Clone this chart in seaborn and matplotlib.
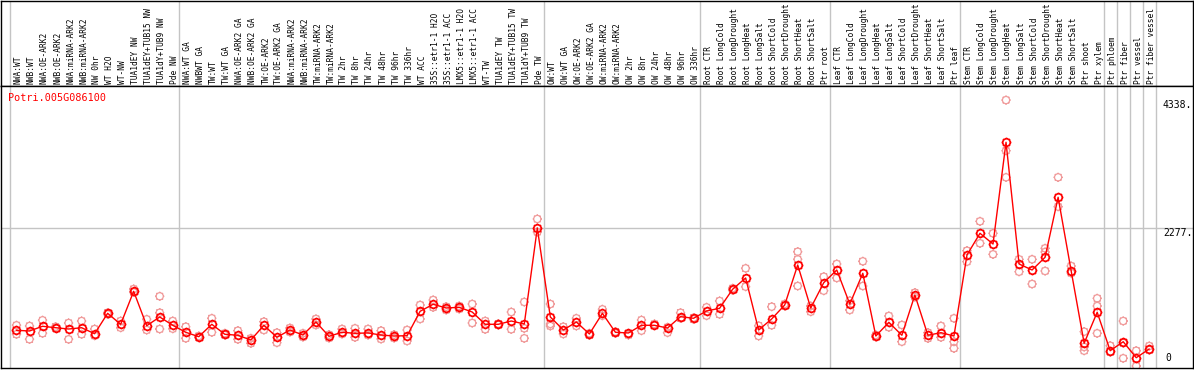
import numpy as np
import pandas as pd
import matplotlib
matplotlib.use("Agg")
import matplotlib.pyplot as plt
from matplotlib.path import Path
import seaborn as sns

# ---------------- data ----------------
gene = "Potri.005G086100"

group_sizes = [13, 28, 12, 10, 10, 11, 1, 1, 1, 1]

labels = [
    # group 1
    "NWA:WT", "NWB:WT", "NWA:OE-ARK2", "NWB:OE-ARK2", "NWA:miRNA-ARK2",
    "NWB:miRNA-ARK2", "NW 0hr", "WT H2O", "WT-NW", "TUA1dEY NW",
    "TUA1dEY+TUB15 NW", "TUA1dY+TUB9 NW", "Pde NW",
    # group 2
    "NWA:WT GA", "NWBWT GA", "TW:WT", "TW:WT GA", "NWA:OE-ARK2 GA",
    "NWB:OE-ARK2 GA", "TW:OE-ARK2", "TW:OE-ARK2 GA", "NWA:miRNA-ARK2",
    "NWB:miRNA-ARK2", "TW:miRNA-ARK2", "TW:miRNA-ARK2", "TW 2hr", "TW 8hr",
    "TW 24hr", "TW 48hr", "TW 96hr", "TW 336hr", "WT ACC",
    "35S::etr1-1 H2O", "35S::etr1-1 ACC", "LMX5::etr1-1 H2O",
    "LMX5::etr1-1 ACC", "WT-TW", "TUA1dEY TW", "TUA1dEY+TUB15 TW",
    "TUA1dY+TUB9 TW", "Pde TW",
    # group 3
    "OW:WT", "OW:WT GA", "OW:OE-ARK2", "OW:OE-ARK2 GA", "OW:miRNA-ARK2",
    "OW:miRNA-ARK2", "OW 2hr", "OW 8hr", "OW 24hr", "OW 48hr", "OW 96hr",
    "OW 336hr",
    # group 4
    "Root CTR", "Root LongCold", "Root LongDrought", "Root LongHeat",
    "Root LongSalt", "Root ShortCold", "Root ShortDrought", "Root ShortHeat",
    "Root ShortSalt", "Ptr root",
    # group 5
    "Leaf CTR", "Leaf LongCold", "Leaf LongDrought", "Leaf LongHeat",
    "Leaf LongSalt", "Leaf ShortCold", "Leaf ShortDrought", "Leaf ShortHeat",
    "Leaf ShortSalt", "Ptr leaf",
    # group 6
    "Stem CTR", "Stem LongCold", "Stem LongDrought", "Stem LongHeat",
    "Stem LongSalt", "Stem ShortCold", "Stem ShortDrought", "Stem ShortHeat",
    "Stem ShortSalt", "Ptr shoot", "Ptr xylem",
    # single columns
    "Ptr phloem", "Ptr fiber", "Ptr vessel", "Ptr fiber vessel",
]

mean_values = [
    624, 613, 689, 666, 645, 666, 569, 898, 721, 1253, 698, 839, 705,
    592, 521, 721, 560, 544, 468, 705, 511, 629, 548, 758, 527, 592, 576,
    581, 548, 532, 537, 931, 1044, 984, 995, 919, 721, 721, 774, 726, 2274,
    839, 629, 758, 565, 898, 592, 581, 705, 705, 661, 844, 818,
    936, 979, 1286, 1468, 629, 807, 1032, 1678, 984, 1392,
    1597, 1048, 1544, 532, 753, 544, 1194, 544, 586, 532,
    1839, 2189, 2016, 3657, 1694, 1597, 1802, 2770, 1586, 415, 915,
    295, 440, 182, 323,
]

rep1_values = [
    705, 694, 786, 682, 742, 774, 645, 908, 774, 1290, 802, 1173, 774,
    682, 532, 818, 576, 618, 495, 763, 586, 597, 576, 807, 553, 645, 656,
    645, 618, 553, 629, 1032, 1113, 1005, 1016, 1048, 774, 729, 919, 1081, 2420,
    1048, 682, 818, 576, 963, 602, 565, 790, 726, 673, 908, 827,
    995, 1097, 1302, 1624, 698, 1005, 1048, 1892, 924, 1489,
    1694, 1102, 1737, 548, 855, 710, 1231, 586, 694, 818,
    1908, 2382, 2189, 4338, 1769, 1769, 1947, 3092, 1661, 602, 1140,
    376, 774, 295, 371,
]

rep2_values = [
    560, 479, 576, 661, 479, 560, 537, 882, 666, 1237, 629, 908, 650,
    495, 508, 592, 548, 479, 415, 629, 424, 661, 516, 710, 500, 565, 511,
    548, 484, 500, 452, 807, 995, 952, 968, 742, 640, 710, 640, 656, 2210,
    726, 565, 694, 544, 860, 576, 548, 618, 710, 586, 818, 802,
    860, 882, 1269, 1328, 532, 705, 1016, 1769, 1016, 1263,
    1468, 952, 1339, 516, 673, 440, 1161, 495, 511, 440,
    1731, 2028, 1850, 3521, 1569, 1371, 1581, 2618, 1548, 295, 1016,
    274, 173, 48, 306,
]

rep3_index = [11, 39, 41, 60, 72, 76, 79, 82, 83, 85]
rep3_values = [645, 495, 694, 1339, 334, 3092, 1887, 355, 576, 419]

ytick_values = [0, 2277, 4338]
ytick_labels = ["0", "2277.", "4338."]

# ---------------- style ----------------
sns.set_style("white")
plt.rcParams["font.family"] = ["DejaVu Sans Mono", "DejaVu Sans"]

W, H = 1194, 370
fig = plt.figure(figsize=(W / 100, H / 100), dpi=100)


def px_axes(x0, y0, x1, y1):
    return fig.add_axes([x0 / W, 1 - y1 / H, (x1 - x0) / W, (y1 - y0) / H])


ax_h = px_axes(1, 0.5, 1193, 86)
ax = px_axes(1, 86, 1193, 368)

n = len(labels)
xs = np.arange(n)
xlim = (-1.19, 90.36)
for a in (ax, ax_h):
    a.set_xlim(*xlim)
    for s in a.spines.values():
        s.set_color("black")
        s.set_linewidth(1.0)
    a.set_xticks([])
    a.set_yticks([])
ax_h.set_ylim(0, 1)
ax.set_ylim(16, 4565)

# "gear" marker: open circle with short outer ticks
angles = np.deg2rad(np.arange(0, 360, 45))
verts = [Path.unit_circle()]
for t in angles:
    verts.append(Path([(np.cos(t), np.sin(t)),
                       (1.3 * np.cos(t), 1.3 * np.sin(t))],
                      [Path.MOVETO, Path.LINETO]))
gear = Path.make_compound_path(*verts)

# group boundaries
bounds = np.concatenate([[0], np.cumsum(group_sizes)]) - 0.5
for b in bounds:
    ax.axvline(b, color="#c4c4c4", lw=1, zorder=0)
    ax_h.axvline(b, color="#c4c4c4", lw=1, zorder=0)

# horizontal grid line at middle tick
ax.axhline(ytick_values[1], color="#c4c4c4", lw=1, zorder=0)

# header labels
for i, lab in enumerate(labels):
    ax_h.text(i + 0.15, 0.018, lab, rotation=90, ha="center", va="bottom",
              fontsize=5.7, color="black", clip_on=True)

# replicates
rep_df = pd.DataFrame({
    "x": np.concatenate([xs, xs, np.array(rep3_index)]),
    "value": np.concatenate([rep1_values, rep2_values, rep3_values]).astype(float),
})
sns.scatterplot(data=rep_df, x="x", y="value", ax=ax, marker=gear, s=45,
                facecolors="none", edgecolor="#f09a9a", linewidth=0.9,
                zorder=2, legend=False)

# means line
mean_df = pd.DataFrame({"x": xs, "value": np.array(mean_values, float)})
sns.lineplot(data=mean_df, x="x", y="value", ax=ax, color="#ff0000", lw=1.0,
             marker=gear, markersize=7, markerfacecolor="none",
             markeredgecolor="#ff0000", markeredgewidth=1.2, zorder=3,
             legend=False)
ax.set_xlabel("")
ax.set_ylabel("")

# gene label
ax.text(0.006, 0.975, gene, transform=ax.transAxes, ha="left", va="top",
        fontsize=7.3, color="#ff0000")

# y labels on the right
for v, t in zip(ytick_values, ytick_labels):
    if v == 0:
        ax.text(88.2, 100, t, ha="left", va="bottom", fontsize=7, color="black")
    else:
        ax.text(88.05, v, t, ha="left", va="top", fontsize=7, color="black")

fig.savefig("out.png", dpi=100)
